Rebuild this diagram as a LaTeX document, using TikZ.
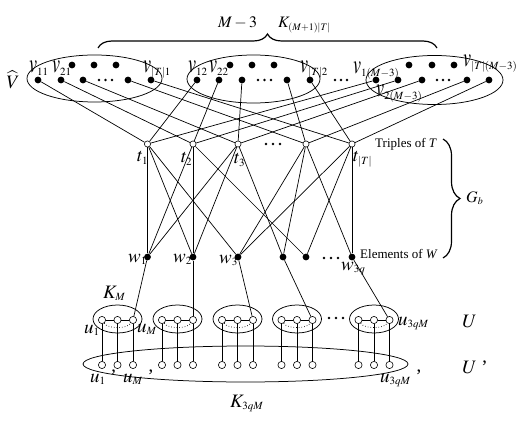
\documentclass[tikz,border=0pt]{standalone}
\usepackage{graphicx}
\usepackage{mathptmx}
\usepackage[no-math]{fontspec}
\setmainfont{Liberation Serif}
\DeclareMathSizes{19}{19}{11}{8}
\DeclareMathSizes{16}{16}{10}{7}
\newcommand{\vlet}{\scalebox{0.95}[1.4]{$v$}}
\usetikzlibrary{decorations.pathreplacing}
\begin{document}
\begin{tikzpicture}[x=1pt,y=-1pt,
  bdot/.style={circle,fill=black,inner sep=0pt,minimum size=6.8pt},
  tdot/.style={circle,draw,fill=white,inner sep=0pt,minimum size=6.2pt,line width=0.6pt},
  udot/.style={circle,draw,fill=white,inner sep=0pt,minimum size=7.2pt,line width=0.6pt},
  sdot/.style={circle,fill=black,inner sep=0pt,minimum size=2.8pt},
  lbl/.style={inner sep=0pt,anchor=base west,font=\fontsize{19}{19}\selectfont},
  slbl/.style={inner sep=0pt,anchor=base west,font=\fontsize{16}{16}\selectfont},
  txt/.style={inner sep=0pt,anchor=base west,font=\fontsize{13}{13}\selectfont},
  edge/.style={line width=0.7pt},
  grp/.style={line width=0.75pt},
  brc/.style={line width=1.2pt,decorate}
]
\useasboundingbox (0,0) rectangle (519,422);
% ---------- top groups ----------
\draw[grp] (94.5,78.5) ellipse [x radius=67.5, y radius=23.5];
\draw[grp] (253.5,79) ellipse [x radius=66.5, y radius=24];
\draw[grp] (434.5,80) ellipse [x radius=68.5, y radius=24.5];
% top rows
\foreach \n/\x in {1/72,2/94,3/116} \node[bdot] (ta\n) at (\x,65) {};
\foreach \n/\x in {1/230,2/252,3/274} \node[bdot] (tb\n) at (\x,65) {};
\foreach \n/\x in {1/409,2/432,3/454} \node[bdot] (tc\n) at (\x,65) {};
% bottom rows
\foreach \n/\x in {1/38,2/61,3/83,4/128,5/151} \node[bdot] (a\n) at (\x,80) {};
\foreach \n/\x in {1/197,2/219,3/242,4/287,5/310} \node[bdot] (b\n) at (\x,80) {};
\foreach \n/\x in {1/376,2/398,3/422,4/467,5/489} \node[bdot] (c\n) at (\x,80) {};
% ellipsis dots
\foreach \n/\x in {1/99,2/105.5,3/112} \node[sdot] (da\n) at (\x,80) {};
\foreach \n/\x in {1/258,2/264.5,3/271} \node[sdot] (db\n) at (\x,80) {};
\foreach \n/\x in {1/437,2/443,3/449} \node[sdot] (dc\n) at (\x,80) {};
\foreach \n/\x in {1/335,2/341,3/347} \node[sdot] (dm\n) at (\x,80) {};
% ---------- t nodes ----------
\foreach \n/\x in {1/147.5,2/193,3/238,4/306,5/352} \node[tdot] (t\n) at (\x,144) {};
\foreach \n/\x in {1/266,2/273,3/280} \node[sdot] (dt\n) at (\x,144) {};
% ---------- w nodes ----------
\foreach \n/\x in {1/147.5,2/193,3/238,4/283,5/306,6/352} \node[bdot] (w\n) at (\x,257) {};
\foreach \n/\x in {1/324,2/331,3/338} \node[sdot] (dw\n) at (\x,258) {};
% ---------- U groups ----------
\foreach \g/\x in {1/117.5,2/177.5,3/237.5,4/297,5/374} {
  \draw[grp] (\x,319) ellipse [x radius=24.5, y radius=14];
  \node[udot] (u\g1) at (\x-15.5,320) {};
  \node[udot] (u\g2) at (\x,320) {};
  \node[udot] (u\g3) at (\x+15.5,320) {};
  \node[udot] (p\g1) at (\x-15.5,365) {};
  \node[udot] (p\g2) at (\x,365) {};
  \node[udot] (p\g3) at (\x+15.5,365) {};
  \draw[edge] (u\g1) -- (u\g2) -- (u\g3);
  \draw[edge,dotted] (u\g1) .. controls +(6,9) and +(-6,9) .. (u\g3);
  \draw[edge] (u\g1) -- (p\g1);
  \draw[edge] (u\g2) -- (p\g2);
  \draw[edge] (u\g3) -- (p\g3);
}
\foreach \n/\x in {1/329,2/336,3/343} \node[sdot] (du\n) at (\x,318) {};
\draw[grp] (245.5,364) ellipse [x radius=162.5, y radius=18];
% ---------- edges ----------
\foreach \i in {1,...,5} {
  \draw[edge] (a\i) -- (t\i);
  \draw[edge] (b\i) -- (t\i);
  \draw[edge] (c\i) -- (t\i);
}
\foreach \s/\e in {t1/w1,t1/w2,t1/w3,t2/w1,t2/w2,t2/w5,t3/w1,t3/w2,t3/w4,t4/w3,t4/w4,t4/w6,t5/w3,t5/w5,t5/w6}
  \draw[edge] (\s) -- (\e);
\foreach \s/\e in {w1/u13,w2/u23,w3/u33,w4/u43,w6/u53}
  \draw[edge] (\s) -- (\e);
% ---------- braces ----------
\draw[brc,decoration={brace,amplitude=14pt}] (98,48) -- (437,48);
\draw[brc,decoration={brace,amplitude=17pt}] (443,139) -- (443,258);
% ---------- labels ----------
\node[lbl,anchor=center] (Vh) at (13,80) {$\widehat{V}$};
\node[lbl] (lv11) at (29,73) {$\vlet_{11}$};
\node[lbl] (lv21) at (52,73) {$\vlet_{21}$};
\node[lbl] (lvT1) at (143,73) {$\vlet_{|T|1}$};
\node[lbl] (lv12) at (188,73) {$\vlet_{12}$};
\node[lbl] (lv22) at (209,73) {$\vlet_{22}$};
\node[lbl] (lvT2) at (300,73) {$\vlet_{|T|2}$};
\node[lbl] (lv1M) at (353,74) {$\vlet_{1(M-3)}$};
\node[lbl] (lv2M) at (376,97) {$\vlet_{2(M-3)}$};
\node[lbl] (lvTM) at (463,67) {$\vlet_{|T|(M-3)}$};
\node[slbl] (lM3) at (218,28) {$M-3$};
\node[slbl] (lK1) at (278,28) {$K_{(M+1)|T|}$};
\node[lbl] (lt1) at (137,162) {$t_1$};
\node[lbl] (lt2) at (181,163) {$t_2$};
\node[lbl] (lt3) at (234,164) {$t_3$};
\node[lbl] (ltT) at (353,162) {$t_{|T|}$};
\node[lbl] (lw1) at (128,262) {$w_1$};
\node[lbl] (lw2) at (173,262) {$w_2$};
\node[lbl] (lw3) at (219,263) {$w_3$};
\node[lbl] (lw3q) at (341,270) {$w_{3q}$};
\node[txt] (ltri) at (375,148) {Triples of \textit{T}};
\node[txt] (lele) at (360,258) {Elements of \textit{W}};
\node[slbl] (lGb) at (466,202) {$G_b$};
\node[lbl] (lKM) at (103,298) {$K_M$};
\node[lbl] (lu1) at (84,333) {$u_1$};
\node[lbl] (luM) at (137,332) {$u_M$};
\node[lbl] (lu3) at (398,325) {$u_{3qM}$};
\node[lbl] (lp1) at (90,382) {$u_1$ {\char"27}};
\node[lbl] (lpM) at (123,382) {$u_M$ {\char"27}};
\node[lbl] (lp3) at (380,382) {$u_{3qM}$ {\char"27}};
\node[lbl] (lK3) at (230,407) {$K_{3qM}$};
\node[lbl] (lU) at (462,327) {$U$};
\node[lbl] (lUp) at (462,373) {$U$ {\char"27}};
\end{tikzpicture}
\end{document}
